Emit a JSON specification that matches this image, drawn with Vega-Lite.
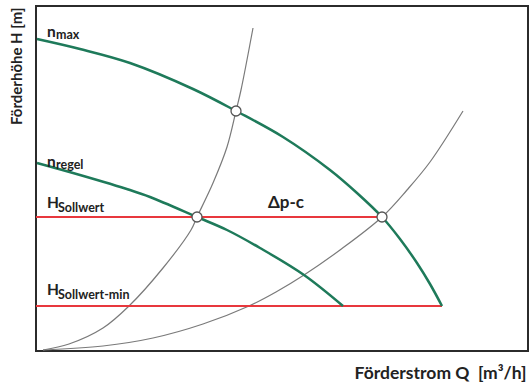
{
  "$schema": "https://vega.github.io/schema/vega-lite/v6.json",
  "width": 492,
  "height": 345,
  "autosize": "none",
  "padding": {"left": 36, "top": 6, "right": 1, "bottom": 32},
  "config": {"view": {"stroke": "#2b2b2b", "strokeWidth": 2}, "font": "Lato"},
  "datasets": {
    "curves": [
      {"series": "nmax", "kind": "green", "Q": 1, "H": 312},
      {"series": "nmax", "kind": "green", "Q": 44, "H": 302},
      {"series": "nmax", "kind": "green", "Q": 94, "H": 288},
      {"series": "nmax", "kind": "green", "Q": 157, "H": 262},
      {"series": "nmax", "kind": "green", "Q": 200, "H": 240},
      {"series": "nmax", "kind": "green", "Q": 247, "H": 214},
      {"series": "nmax", "kind": "green", "Q": 294, "H": 181},
      {"series": "nmax", "kind": "green", "Q": 321, "H": 158},
      {"series": "nmax", "kind": "green", "Q": 346, "H": 134},
      {"series": "nmax", "kind": "green", "Q": 364, "H": 112},
      {"series": "nmax", "kind": "green", "Q": 381, "H": 88},
      {"series": "nmax", "kind": "green", "Q": 394, "H": 67},
      {"series": "nmax", "kind": "green", "Q": 406, "H": 45},
      {"series": "nregel", "kind": "green", "Q": 1, "H": 188},
      {"series": "nregel", "kind": "green", "Q": 44, "H": 176},
      {"series": "nregel", "kind": "green", "Q": 94, "H": 161},
      {"series": "nregel", "kind": "green", "Q": 114, "H": 154},
      {"series": "nregel", "kind": "green", "Q": 161, "H": 134},
      {"series": "nregel", "kind": "green", "Q": 191, "H": 121},
      {"series": "nregel", "kind": "green", "Q": 224, "H": 103},
      {"series": "nregel", "kind": "green", "Q": 268, "H": 76},
      {"series": "nregel", "kind": "green", "Q": 307, "H": 45},
      {"series": "hsoll", "kind": "red", "Q": 0, "H": 134},
      {"series": "hsoll", "kind": "red", "Q": 346, "H": 134},
      {"series": "hmin", "kind": "red", "Q": 0, "H": 45},
      {"series": "hmin", "kind": "red", "Q": 406, "H": 45},
      {"series": "anlage1", "kind": "grey", "Q": 7, "H": 1},
      {"series": "anlage1", "kind": "grey", "Q": 33, "H": 7},
      {"series": "anlage1", "kind": "grey", "Q": 67, "H": 23},
      {"series": "anlage1", "kind": "grey", "Q": 93, "H": 45},
      {"series": "anlage1", "kind": "grey", "Q": 127, "H": 83},
      {"series": "anlage1", "kind": "grey", "Q": 155, "H": 121},
      {"series": "anlage1", "kind": "grey", "Q": 161, "H": 134},
      {"series": "anlage1", "kind": "grey", "Q": 177, "H": 168},
      {"series": "anlage1", "kind": "grey", "Q": 191, "H": 204},
      {"series": "anlage1", "kind": "grey", "Q": 200, "H": 240},
      {"series": "anlage1", "kind": "grey", "Q": 205, "H": 261},
      {"series": "anlage1", "kind": "grey", "Q": 217, "H": 323},
      {"series": "anlage2", "kind": "grey", "Q": 7, "H": 1},
      {"series": "anlage2", "kind": "grey", "Q": 67, "H": 5},
      {"series": "anlage2", "kind": "grey", "Q": 117, "H": 13},
      {"series": "anlage2", "kind": "grey", "Q": 167, "H": 27},
      {"series": "anlage2", "kind": "grey", "Q": 213, "H": 45},
      {"series": "anlage2", "kind": "grey", "Q": 240, "H": 59},
      {"series": "anlage2", "kind": "grey", "Q": 268, "H": 76},
      {"series": "anlage2", "kind": "grey", "Q": 304, "H": 101},
      {"series": "anlage2", "kind": "grey", "Q": 346, "H": 134},
      {"series": "anlage2", "kind": "grey", "Q": 371, "H": 161},
      {"series": "anlage2", "kind": "grey", "Q": 394, "H": 189},
      {"series": "anlage2", "kind": "grey", "Q": 427, "H": 240}
    ],
    "points": [
      {"Q": 200, "H": 240},
      {"Q": 161, "H": 134},
      {"Q": 346, "H": 134}
    ],
    "mainLabels": [
      {"text": "n", "Q": 11, "H": 314},
      {"text": "n", "Q": 11, "H": 184},
      {"text": "H", "Q": 11, "H": 143},
      {"text": "H", "Q": 11, "H": 56}
    ],
    "deltaLabel": [
      {"text": "Δp-c", "Q": 232, "H": 143}
    ],
    "subLabels": [
      {"text": "max", "Q": 20, "H": 312},
      {"text": "regel", "Q": 20, "H": 182},
      {"text": "Sollwert", "Q": 22, "H": 139},
      {"text": "Sollwert-min", "Q": 22, "H": 52}
    ]
  },
  "layer": [
    {
      "data": {"name": "curves"},
      "transform": [{"filter": "datum.kind === 'grey'"}],
      "mark": {"type": "line", "interpolate": "catmull-rom", "color": "#7a7a7a", "strokeWidth": 1.2},
      "encoding": {
        "x": {"field": "Q", "type": "quantitative", "scale": {"domain": [0, 492], "nice": false, "zero": false},
          "axis": {"labels": false, "ticks": false, "grid": false, "domain": false,
            "title": "Förderstrom Q\u00a0\u00a0[m³/h]", "titleFontSize": 17.5, "titleFontWeight": "bold", "titleColor": "#222",
            "titleAlign": "right", "titleAnchor": "end", "titleBaseline": "alphabetic", "titleX": 490, "titleY": 27}},
        "y": {"field": "H", "type": "quantitative", "scale": {"domain": [0, 345], "nice": false, "zero": false},
          "axis": {"labels": false, "ticks": false, "grid": false, "domain": false,
            "title": "Förderhöhe H [m]", "titleFontSize": 15, "titleFontWeight": "bold", "titleColor": "#222",
            "titleAngle": 270, "titleAlign": "right", "titleBaseline": "middle", "titleX": -20, "titleY": 1}},
        "detail": {"field": "series"}
      }
    },
    {
      "data": {"name": "curves"},
      "transform": [{"filter": "datum.kind === 'red'"}],
      "mark": {"type": "line", "color": "#e8383d", "strokeWidth": 2.2},
      "encoding": {
        "x": {"field": "Q", "type": "quantitative"},
        "y": {"field": "H", "type": "quantitative"},
        "detail": {"field": "series"}
      }
    },
    {
      "data": {"name": "curves"},
      "transform": [{"filter": "datum.kind === 'green'"}],
      "mark": {"type": "line", "interpolate": "catmull-rom", "color": "#1e7a5a", "strokeWidth": 2.5},
      "encoding": {
        "x": {"field": "Q", "type": "quantitative"},
        "y": {"field": "H", "type": "quantitative"},
        "detail": {"field": "series"}
      }
    },
    {
      "data": {"name": "points"},
      "mark": {"type": "point", "filled": true, "fill": "white", "stroke": "#555", "strokeWidth": 1.3, "size": 100, "opacity": 1},
      "encoding": {
        "x": {"field": "Q", "type": "quantitative"},
        "y": {"field": "H", "type": "quantitative"}
      }
    },
    {
      "data": {"name": "mainLabels"},
      "mark": {"type": "text", "align": "left", "baseline": "alphabetic", "fontSize": 15.5, "fontWeight": "bold", "color": "#222"},
      "encoding": {
        "x": {"field": "Q", "type": "quantitative"},
        "y": {"field": "H", "type": "quantitative"},
        "text": {"field": "text"}
      }
    },
    {
      "data": {"name": "deltaLabel"},
      "mark": {"type": "text", "align": "left", "baseline": "alphabetic", "fontSize": 17, "fontWeight": "bold", "color": "#222"},
      "encoding": {
        "x": {"field": "Q", "type": "quantitative"},
        "y": {"field": "H", "type": "quantitative"},
        "text": {"field": "text"}
      }
    },
    {
      "data": {"name": "subLabels"},
      "mark": {"type": "text", "align": "left", "baseline": "alphabetic", "fontSize": 12.5, "fontWeight": "bold", "color": "#222"},
      "encoding": {
        "x": {"field": "Q", "type": "quantitative"},
        "y": {"field": "H", "type": "quantitative"},
        "text": {"field": "text"}
      }
    }
  ]
}
